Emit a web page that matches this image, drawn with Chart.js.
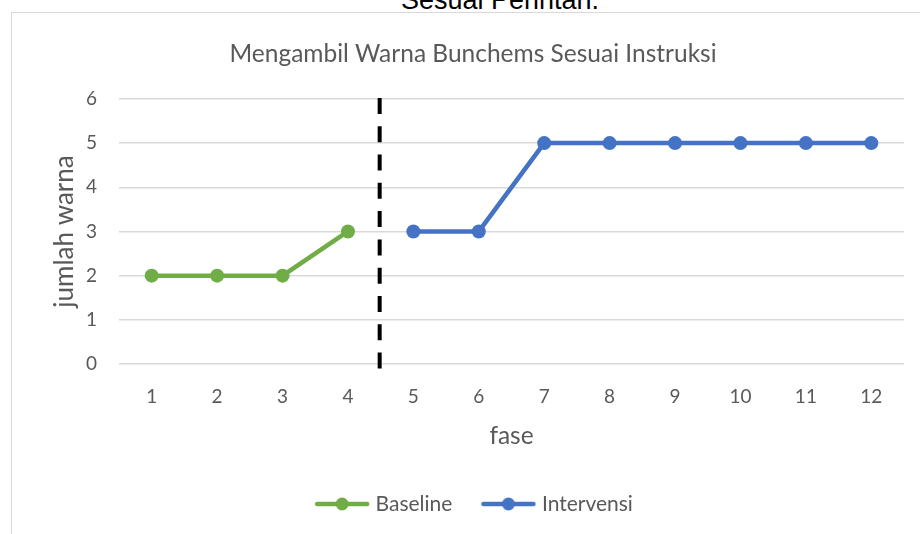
<!DOCTYPE html>
<html>
<head>
<meta charset="utf-8">
<script src="https://cdn.jsdelivr.net/npm/chart.js@4"></script>
<style>
  html, body { margin: 0; padding: 0; background: #fff; overflow: hidden; }
  body { width: 920px; height: 534px; position: relative; }
  #caption { position: absolute; left: 0; width: 1000px; top: -13px; text-align: center;
             font: 27px "Liberation Sans", Arial, sans-serif; line-height: 27px; color: #000; }
  #box { position: absolute; left: 11px; top: 12px; width: 930px; height: 560px;
         border: 1px solid #d9d9d9; box-sizing: border-box; }
  #wrap { position: absolute; left: 12px; top: 13px; width: 908px; height: 521px; }
</style>
</head>
<body>
<div id="caption">Sesuai Perintah.</div>
<div id="box"></div>
<div id="wrap"><canvas id="energyChart"></canvas></div>
<script>
const phases = ['1', '2', '3', '4', '5', '6', '7', '8', '9', '10', '11', '12'];
const baseline = [2, 2, 2, 3, null, null, null, null, null, null, null, null];
const intervensi = [null, null, null, null, 3, 3, 5, 5, 5, 5, 5, 5];
const yTicks = [0, 1, 2, 3, 4, 5, 6];
const phaseSplit = 3.5; // between fase 4 and fase 5 (category index)

const textColor = '#595959';
const fontFamily = 'Lato, "Open Sans", sans-serif';

// legend marker: line with a dot in the middle, like Excel
function makeMarker(color) {
    const c = document.createElement('canvas');
    c.width = 56;
    c.height = 16;
    const g = c.getContext('2d');
    g.strokeStyle = color;
    g.lineWidth = 4.5;
    g.lineCap = 'round';
    g.beginPath();
    g.moveTo(3, 8);
    g.lineTo(53, 8);
    g.stroke();
    g.fillStyle = color;
    g.beginPath();
    g.arc(28, 8, 6.5, 0, Math.PI * 2);
    g.fill();
    return c;
}

const splitLine = {
    id: 'splitLine',
    afterLayout(chart) {
        // Excel puts the title and legend a bit right of the canvas centre
        chart.titleBlock.left += 15;
        chart.titleBlock.right += 15;
        chart.legend.left += 18;
        chart.legend.right += 18;
    },
    afterDatasetsDraw(chart) {
        const x = chart.scales.x.getPixelForValue(phaseSplit) - 1;
        const yTop = chart.scales.y.getPixelForValue(yTicks[yTicks.length - 1]) - 1;
        const yBot = chart.scales.y.getPixelForValue(yTicks[0]) + 6;
        const ctx = chart.ctx;
        ctx.save();
        ctx.strokeStyle = '#000000';
        ctx.lineWidth = 4;
        ctx.setLineDash([16, 12.3]);
        ctx.beginPath();
        ctx.moveTo(x, yTop);
        ctx.lineTo(x, yBot);
        ctx.stroke();
        ctx.restore();
    }
};

const ctx = document.getElementById('energyChart').getContext('2d');
const myChart = new Chart(ctx, {
    type: 'line',
    data: {
        labels: phases,
        datasets: [{
            label: 'Baseline',
            data: baseline,
            borderColor: '#70AD47',
            backgroundColor: '#70AD47',
            borderWidth: 4.5,
            pointRadius: 7,
            pointHoverRadius: 7,
            pointBorderWidth: 0,
            spanGaps: false
        }, {
            label: 'Intervensi',
            data: intervensi,
            borderColor: '#4472C4',
            backgroundColor: '#4472C4',
            borderWidth: 4.5,
            pointRadius: 7,
            pointHoverRadius: 7,
            pointBorderWidth: 0,
            spanGaps: false
        }]
    },
    options: {
        responsive: true,
        maintainAspectRatio: false,
        animation: false,
        layout: { padding: { left: 0, right: 16, top: 0, bottom: 9.5 } },
        plugins: {
            title: {
                display: true,
                text: 'Mengambil Warna Bunchems Sesuai Instruksi',
                color: textColor,
                font: { family: fontFamily, size: 24.5, weight: 'normal' },
                padding: { top: 26, bottom: 30.5 }
            },
            legend: {
                position: 'bottom',
                labels: {
                    usePointStyle: true,
                    pointStyleWidth: 46,
                    color: textColor,
                    font: { family: fontFamily, size: 21 },
                    padding: 33,
                    generateLabels(chart) {
                        return chart.data.datasets.map((ds, i) => ({
                            text: ds.label,
                            fontColor: textColor,
                            pointStyle: makeMarker(ds.borderColor),
                            datasetIndex: i,
                            lineWidth: 0,
                            hidden: false
                        }));
                    }
                }
            },
            tooltip: { enabled: false }
        },
        scales: {
            x: {
                offset: true,
                grid: { display: false, drawTicks: false, offset: true },
                border: { display: false },
                ticks: { color: textColor, font: { family: fontFamily, size: 19 }, padding: 21.6, maxRotation: 0 },
                title: {
                    display: true,
                    text: 'fase',
                    color: textColor,
                    font: { family: fontFamily, size: 24.5 },
                    padding: { top: 0, bottom: 9.5 }
                },
                afterFit(scale) { scale.height = 96.5; }
            },
            y: {
                min: 0,
                max: 6,
                afterBuildTicks(scale) { scale.ticks = yTicks.map(v => ({ value: v })); },
                grid: { color: '#d9d9d9', lineWidth: 1.5, drawTicks: false },
                border: { display: false },
                ticks: { color: textColor, font: { family: fontFamily, size: 19 }, padding: 22 },
                title: {
                    display: true,
                    text: 'jumlah warna',
                    color: textColor,
                    font: { family: fontFamily, size: 26 },
                    padding: { top: 37, bottom: 0 }
                },
                afterFit(scale) { scale.width = 107; }
            }
        }
    },
    plugins: [splitLine]
});
</script>
</body>
</html>
